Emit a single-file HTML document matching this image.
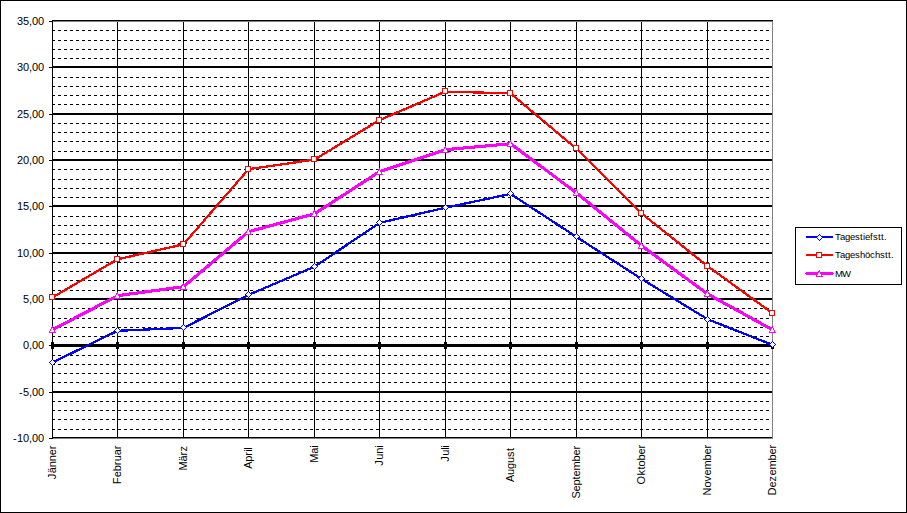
<!DOCTYPE html><html><head><meta charset="utf-8"><title>Temperaturen</title><style>html,body{margin:0;padding:0;background:#fff;overflow:hidden;}svg{display:block;}text{font-family:"Liberation Sans",sans-serif;}</style></head><body>
<svg width="907" height="513" viewBox="0 0 907 513">
<rect x="0" y="0" width="907" height="513" fill="#fff"/>
<g shape-rendering="crispEdges"><rect x="0" y="0" width="907" height="1" fill="#000"/><rect x="0" y="512" width="907" height="1" fill="#000"/><rect x="0" y="0" width="1" height="513" fill="#000"/><rect x="906" y="0" width="1" height="513" fill="#000"/><line x1="52" y1="429.5" x2="772" y2="429.5" stroke="#000" stroke-width="1" stroke-dasharray="3 3"/><line x1="52" y1="419.5" x2="772" y2="419.5" stroke="#000" stroke-width="1" stroke-dasharray="3 3"/><line x1="52" y1="410.5" x2="772" y2="410.5" stroke="#000" stroke-width="1" stroke-dasharray="3 3"/><line x1="52" y1="401.5" x2="772" y2="401.5" stroke="#000" stroke-width="1" stroke-dasharray="3 3"/><line x1="52" y1="382.5" x2="772" y2="382.5" stroke="#000" stroke-width="1" stroke-dasharray="3 3"/><line x1="52" y1="373.5" x2="772" y2="373.5" stroke="#000" stroke-width="1" stroke-dasharray="3 3"/><line x1="52" y1="364.5" x2="772" y2="364.5" stroke="#000" stroke-width="1" stroke-dasharray="3 3"/><line x1="52" y1="355.5" x2="772" y2="355.5" stroke="#000" stroke-width="1" stroke-dasharray="3 3"/><line x1="52" y1="336.5" x2="772" y2="336.5" stroke="#000" stroke-width="1" stroke-dasharray="3 3"/><line x1="52" y1="327.5" x2="772" y2="327.5" stroke="#000" stroke-width="1" stroke-dasharray="3 3"/><line x1="52" y1="318.5" x2="772" y2="318.5" stroke="#000" stroke-width="1" stroke-dasharray="3 3"/><line x1="52" y1="308.5" x2="772" y2="308.5" stroke="#000" stroke-width="1" stroke-dasharray="3 3"/><line x1="52" y1="290.5" x2="772" y2="290.5" stroke="#000" stroke-width="1" stroke-dasharray="3 3"/><line x1="52" y1="280.5" x2="772" y2="280.5" stroke="#000" stroke-width="1" stroke-dasharray="3 3"/><line x1="52" y1="271.5" x2="772" y2="271.5" stroke="#000" stroke-width="1" stroke-dasharray="3 3"/><line x1="52" y1="262.5" x2="772" y2="262.5" stroke="#000" stroke-width="1" stroke-dasharray="3 3"/><line x1="52" y1="243.5" x2="772" y2="243.5" stroke="#000" stroke-width="1" stroke-dasharray="3 3"/><line x1="52" y1="234.5" x2="772" y2="234.5" stroke="#000" stroke-width="1" stroke-dasharray="3 3"/><line x1="52" y1="225.5" x2="772" y2="225.5" stroke="#000" stroke-width="1" stroke-dasharray="3 3"/><line x1="52" y1="216.5" x2="772" y2="216.5" stroke="#000" stroke-width="1" stroke-dasharray="3 3"/><line x1="52" y1="197.5" x2="772" y2="197.5" stroke="#000" stroke-width="1" stroke-dasharray="3 3"/><line x1="52" y1="188.5" x2="772" y2="188.5" stroke="#000" stroke-width="1" stroke-dasharray="3 3"/><line x1="52" y1="179.5" x2="772" y2="179.5" stroke="#000" stroke-width="1" stroke-dasharray="3 3"/><line x1="52" y1="169.5" x2="772" y2="169.5" stroke="#000" stroke-width="1" stroke-dasharray="3 3"/><line x1="52" y1="151.5" x2="772" y2="151.5" stroke="#000" stroke-width="1" stroke-dasharray="3 3"/><line x1="52" y1="141.5" x2="772" y2="141.5" stroke="#000" stroke-width="1" stroke-dasharray="3 3"/><line x1="52" y1="132.5" x2="772" y2="132.5" stroke="#000" stroke-width="1" stroke-dasharray="3 3"/><line x1="52" y1="123.5" x2="772" y2="123.5" stroke="#000" stroke-width="1" stroke-dasharray="3 3"/><line x1="52" y1="104.5" x2="772" y2="104.5" stroke="#000" stroke-width="1" stroke-dasharray="3 3"/><line x1="52" y1="95.5" x2="772" y2="95.5" stroke="#000" stroke-width="1" stroke-dasharray="3 3"/><line x1="52" y1="86.5" x2="772" y2="86.5" stroke="#000" stroke-width="1" stroke-dasharray="3 3"/><line x1="52" y1="77.5" x2="772" y2="77.5" stroke="#000" stroke-width="1" stroke-dasharray="3 3"/><line x1="52" y1="58.5" x2="772" y2="58.5" stroke="#000" stroke-width="1" stroke-dasharray="3 3"/><line x1="52" y1="49.5" x2="772" y2="49.5" stroke="#000" stroke-width="1" stroke-dasharray="3 3"/><line x1="52" y1="40.5" x2="772" y2="40.5" stroke="#000" stroke-width="1" stroke-dasharray="3 3"/><line x1="52" y1="30.5" x2="772" y2="30.5" stroke="#000" stroke-width="1" stroke-dasharray="3 3"/><rect x="52" y="21" width="1" height="418" fill="#000"/><rect x="117" y="21" width="1" height="418" fill="#000"/><rect x="183" y="21" width="1" height="418" fill="#000"/><rect x="248" y="21" width="1" height="418" fill="#000"/><rect x="314" y="21" width="1" height="418" fill="#000"/><rect x="379" y="21" width="1" height="418" fill="#000"/><rect x="445" y="21" width="1" height="418" fill="#000"/><rect x="510" y="21" width="1" height="418" fill="#000"/><rect x="576" y="21" width="1" height="418" fill="#000"/><rect x="641" y="21" width="1" height="418" fill="#000"/><rect x="707" y="21" width="1" height="418" fill="#000"/><rect x="772" y="21" width="1" height="418" fill="#000"/><rect x="52" y="437" width="721" height="2" fill="#000"/><rect x="49" y="438" width="3" height="1" fill="#000"/><rect x="52" y="391" width="721" height="2" fill="#000"/><rect x="49" y="392" width="3" height="1" fill="#000"/><rect x="52" y="344" width="721" height="2" fill="#000"/><rect x="49" y="345" width="3" height="1" fill="#000"/><rect x="52" y="298" width="721" height="2" fill="#000"/><rect x="49" y="299" width="3" height="1" fill="#000"/><rect x="52" y="252" width="721" height="2" fill="#000"/><rect x="49" y="253" width="3" height="1" fill="#000"/><rect x="52" y="205" width="721" height="2" fill="#000"/><rect x="49" y="206" width="3" height="1" fill="#000"/><rect x="52" y="159" width="721" height="2" fill="#000"/><rect x="49" y="160" width="3" height="1" fill="#000"/><rect x="52" y="113" width="721" height="2" fill="#000"/><rect x="49" y="114" width="3" height="1" fill="#000"/><rect x="52" y="66" width="721" height="2" fill="#000"/><rect x="49" y="67" width="3" height="1" fill="#000"/><rect x="52" y="20" width="721" height="2" fill="#000"/><rect x="49" y="21" width="3" height="1" fill="#000"/><rect x="772" y="21" width="1" height="418" fill="#808080"/><rect x="52" y="21" width="721" height="1" fill="#808080"/><rect x="52" y="438" width="721" height="1" fill="#808080"/><rect x="52" y="21" width="1" height="418" fill="#000"/><rect x="52" y="344" width="721" height="3" fill="#000"/><rect x="51" y="342" width="3" height="7" fill="#000"/><rect x="116" y="342" width="3" height="7" fill="#000"/><rect x="182" y="342" width="3" height="7" fill="#000"/><rect x="247" y="342" width="3" height="7" fill="#000"/><rect x="313" y="342" width="3" height="7" fill="#000"/><rect x="378" y="342" width="3" height="7" fill="#000"/><rect x="444" y="342" width="3" height="7" fill="#000"/><rect x="509" y="342" width="3" height="7" fill="#000"/><rect x="575" y="342" width="3" height="7" fill="#000"/><rect x="640" y="342" width="3" height="7" fill="#000"/><rect x="706" y="342" width="3" height="7" fill="#000"/><rect x="771" y="342" width="3" height="7" fill="#000"/></g>
<text x="13 17 23 29 32 38" y="442" font-size="11" fill="#000">-10,00</text>
<text x="19 23 29 32 38" y="396" font-size="11" fill="#000">-5,00</text>
<text x="23 29 32 38" y="349" font-size="11" fill="#000">0,00</text>
<text x="23 29 32 38" y="303" font-size="11" fill="#000">5,00</text>
<text x="17 23 29 32 38" y="257" font-size="11" fill="#000">10,00</text>
<text x="17 23 29 32 38" y="210" font-size="11" fill="#000">15,00</text>
<text x="17 23 29 32 38" y="164" font-size="11" fill="#000">20,00</text>
<text x="17 23 29 32 38" y="118" font-size="11" fill="#000">25,00</text>
<text x="17 23 29 32 38" y="71" font-size="11" fill="#000">30,00</text>
<text x="17 23 29 32 38" y="25" font-size="11" fill="#000">35,00</text>
<g transform="translate(55.7,445.3) rotate(-90)"><text x="-34 -28 -22 -16 -10 -4" y="0" font-size="11" fill="#000">Jänner</text></g>
<g transform="translate(120.7,445.2) rotate(-90)"><text x="-39 -32 -26 -20 -16 -10 -4" y="0" font-size="11" fill="#000">Februar</text></g>
<g transform="translate(186.7,445.5) rotate(-90)"><text x="-25 -16 -10 -6" y="0" font-size="11" fill="#000">März</text></g>
<g transform="translate(251.7,447.8) rotate(-90)"><text x="-21 -14 -8 -4 -2" y="0" font-size="11" fill="#000">April</text></g>
<g transform="translate(317.7,445.8) rotate(-90)"><text x="-17 -8 -2" y="0" font-size="11" fill="#000">Mai</text></g>
<g transform="translate(382.7,445.7) rotate(-90)"><text x="-20 -14 -8 -2" y="0" font-size="11" fill="#000">Juni</text></g>
<g transform="translate(448.7,445.7) rotate(-90)"><text x="-16 -10 -4 -2" y="0" font-size="11" fill="#000">Juli</text></g>
<g transform="translate(513.7,448.0) rotate(-90)"><text x="-34 -27 -21 -15 -9 -3" y="0" font-size="11" fill="#000">August</text></g>
<g transform="translate(579.7,445.5) rotate(-90)"><text x="-53 -46 -40 -34 -31 -25 -16 -10 -4" y="0" font-size="11" fill="#000">September</text></g>
<g transform="translate(644.7,444.5) rotate(-90)"><text x="-40 -31 -25 -22 -16 -10 -4" y="0" font-size="11" fill="#000">Oktober</text></g>
<g transform="translate(710.7,444.5) rotate(-90)"><text x="-51 -43 -37 -31 -25 -16 -10 -4" y="0" font-size="11" fill="#000">November</text></g>
<g transform="translate(775.7,444.5) rotate(-90)"><text x="-51 -43 -37 -31 -25 -16 -10 -4" y="0" font-size="11" fill="#000">Dezember</text></g>
<polyline points="52.5,297.4 117.5,259.3 183.5,244.3 248.5,169.2 314.5,159.6 379.5,120.1 445.5,91.6 510.5,93.4 576.5,148.8 641.5,213.4 707.5,266.1 772.5,313.2" fill="none" stroke="#f00" stroke-width="2.3" stroke-linejoin="round" stroke-linecap="round" shape-rendering="crispEdges"/>
<polyline points="52.5,329.8 117.5,295.7 183.5,286.7 248.5,231.7 314.5,213.8 379.5,171.7 445.5,149.7 510.5,143.7 576.5,192.9 641.5,245.7 707.5,293.9 772.5,329.8" fill="none" stroke="#f0f" stroke-width="3.1" stroke-linejoin="round" stroke-linecap="round" shape-rendering="crispEdges"/>
<polyline points="52.5,362.5 117.5,330.8 183.5,327.9 248.5,294.9 314.5,266.7 379.5,222.9 445.5,207.7 510.5,193.9 576.5,236.9 641.5,278.9 707.5,319.2 772.5,344.9" fill="none" stroke="#00f" stroke-width="2.3" stroke-linejoin="round" stroke-linecap="round" shape-rendering="crispEdges"/>
<g shape-rendering="crispEdges"><rect x="50" y="295" width="4" height="1" fill="#fff"/><rect x="50" y="296" width="4" height="1" fill="#fff"/><rect x="50" y="297" width="4" height="1" fill="#fff"/><rect x="50" y="298" width="4" height="1" fill="#fff"/><rect x="49" y="294" width="6" height="1" fill="#f00"/><rect x="49" y="295" width="1" height="1" fill="#f00"/><rect x="54" y="295" width="1" height="1" fill="#f00"/><rect x="49" y="296" width="1" height="1" fill="#f00"/><rect x="54" y="296" width="1" height="1" fill="#f00"/><rect x="49" y="297" width="1" height="1" fill="#f00"/><rect x="54" y="297" width="1" height="1" fill="#f00"/><rect x="49" y="298" width="1" height="1" fill="#f00"/><rect x="54" y="298" width="1" height="1" fill="#f00"/><rect x="49" y="299" width="6" height="1" fill="#f00"/><rect x="115" y="257" width="4" height="1" fill="#fff"/><rect x="115" y="258" width="4" height="1" fill="#fff"/><rect x="115" y="259" width="4" height="1" fill="#fff"/><rect x="115" y="260" width="4" height="1" fill="#fff"/><rect x="114" y="256" width="6" height="1" fill="#f00"/><rect x="114" y="257" width="1" height="1" fill="#f00"/><rect x="119" y="257" width="1" height="1" fill="#f00"/><rect x="114" y="258" width="1" height="1" fill="#f00"/><rect x="119" y="258" width="1" height="1" fill="#f00"/><rect x="114" y="259" width="1" height="1" fill="#f00"/><rect x="119" y="259" width="1" height="1" fill="#f00"/><rect x="114" y="260" width="1" height="1" fill="#f00"/><rect x="119" y="260" width="1" height="1" fill="#f00"/><rect x="114" y="261" width="6" height="1" fill="#f00"/><rect x="181" y="242" width="4" height="1" fill="#fff"/><rect x="181" y="243" width="4" height="1" fill="#fff"/><rect x="181" y="244" width="4" height="1" fill="#fff"/><rect x="181" y="245" width="4" height="1" fill="#fff"/><rect x="180" y="241" width="6" height="1" fill="#f00"/><rect x="180" y="242" width="1" height="1" fill="#f00"/><rect x="185" y="242" width="1" height="1" fill="#f00"/><rect x="180" y="243" width="1" height="1" fill="#f00"/><rect x="185" y="243" width="1" height="1" fill="#f00"/><rect x="180" y="244" width="1" height="1" fill="#f00"/><rect x="185" y="244" width="1" height="1" fill="#f00"/><rect x="180" y="245" width="1" height="1" fill="#f00"/><rect x="185" y="245" width="1" height="1" fill="#f00"/><rect x="180" y="246" width="6" height="1" fill="#f00"/><rect x="246" y="167" width="4" height="1" fill="#fff"/><rect x="246" y="168" width="4" height="1" fill="#fff"/><rect x="246" y="169" width="4" height="1" fill="#fff"/><rect x="246" y="170" width="4" height="1" fill="#fff"/><rect x="245" y="166" width="6" height="1" fill="#f00"/><rect x="245" y="167" width="1" height="1" fill="#f00"/><rect x="250" y="167" width="1" height="1" fill="#f00"/><rect x="245" y="168" width="1" height="1" fill="#f00"/><rect x="250" y="168" width="1" height="1" fill="#f00"/><rect x="245" y="169" width="1" height="1" fill="#f00"/><rect x="250" y="169" width="1" height="1" fill="#f00"/><rect x="245" y="170" width="1" height="1" fill="#f00"/><rect x="250" y="170" width="1" height="1" fill="#f00"/><rect x="245" y="171" width="6" height="1" fill="#f00"/><rect x="312" y="157" width="4" height="1" fill="#fff"/><rect x="312" y="158" width="4" height="1" fill="#fff"/><rect x="312" y="159" width="4" height="1" fill="#fff"/><rect x="312" y="160" width="4" height="1" fill="#fff"/><rect x="311" y="156" width="6" height="1" fill="#f00"/><rect x="311" y="157" width="1" height="1" fill="#f00"/><rect x="316" y="157" width="1" height="1" fill="#f00"/><rect x="311" y="158" width="1" height="1" fill="#f00"/><rect x="316" y="158" width="1" height="1" fill="#f00"/><rect x="311" y="159" width="1" height="1" fill="#f00"/><rect x="316" y="159" width="1" height="1" fill="#f00"/><rect x="311" y="160" width="1" height="1" fill="#f00"/><rect x="316" y="160" width="1" height="1" fill="#f00"/><rect x="311" y="161" width="6" height="1" fill="#f00"/><rect x="377" y="118" width="4" height="1" fill="#fff"/><rect x="377" y="119" width="4" height="1" fill="#fff"/><rect x="377" y="120" width="4" height="1" fill="#fff"/><rect x="377" y="121" width="4" height="1" fill="#fff"/><rect x="376" y="117" width="6" height="1" fill="#f00"/><rect x="376" y="118" width="1" height="1" fill="#f00"/><rect x="381" y="118" width="1" height="1" fill="#f00"/><rect x="376" y="119" width="1" height="1" fill="#f00"/><rect x="381" y="119" width="1" height="1" fill="#f00"/><rect x="376" y="120" width="1" height="1" fill="#f00"/><rect x="381" y="120" width="1" height="1" fill="#f00"/><rect x="376" y="121" width="1" height="1" fill="#f00"/><rect x="381" y="121" width="1" height="1" fill="#f00"/><rect x="376" y="122" width="6" height="1" fill="#f00"/><rect x="443" y="89" width="4" height="1" fill="#fff"/><rect x="443" y="90" width="4" height="1" fill="#fff"/><rect x="443" y="91" width="4" height="1" fill="#fff"/><rect x="443" y="92" width="4" height="1" fill="#fff"/><rect x="442" y="88" width="6" height="1" fill="#f00"/><rect x="442" y="89" width="1" height="1" fill="#f00"/><rect x="447" y="89" width="1" height="1" fill="#f00"/><rect x="442" y="90" width="1" height="1" fill="#f00"/><rect x="447" y="90" width="1" height="1" fill="#f00"/><rect x="442" y="91" width="1" height="1" fill="#f00"/><rect x="447" y="91" width="1" height="1" fill="#f00"/><rect x="442" y="92" width="1" height="1" fill="#f00"/><rect x="447" y="92" width="1" height="1" fill="#f00"/><rect x="442" y="93" width="6" height="1" fill="#f00"/><rect x="508" y="91" width="4" height="1" fill="#fff"/><rect x="508" y="92" width="4" height="1" fill="#fff"/><rect x="508" y="93" width="4" height="1" fill="#fff"/><rect x="508" y="94" width="4" height="1" fill="#fff"/><rect x="507" y="90" width="6" height="1" fill="#f00"/><rect x="507" y="91" width="1" height="1" fill="#f00"/><rect x="512" y="91" width="1" height="1" fill="#f00"/><rect x="507" y="92" width="1" height="1" fill="#f00"/><rect x="512" y="92" width="1" height="1" fill="#f00"/><rect x="507" y="93" width="1" height="1" fill="#f00"/><rect x="512" y="93" width="1" height="1" fill="#f00"/><rect x="507" y="94" width="1" height="1" fill="#f00"/><rect x="512" y="94" width="1" height="1" fill="#f00"/><rect x="507" y="95" width="6" height="1" fill="#f00"/><rect x="574" y="146" width="4" height="1" fill="#fff"/><rect x="574" y="147" width="4" height="1" fill="#fff"/><rect x="574" y="148" width="4" height="1" fill="#fff"/><rect x="574" y="149" width="4" height="1" fill="#fff"/><rect x="573" y="145" width="6" height="1" fill="#f00"/><rect x="573" y="146" width="1" height="1" fill="#f00"/><rect x="578" y="146" width="1" height="1" fill="#f00"/><rect x="573" y="147" width="1" height="1" fill="#f00"/><rect x="578" y="147" width="1" height="1" fill="#f00"/><rect x="573" y="148" width="1" height="1" fill="#f00"/><rect x="578" y="148" width="1" height="1" fill="#f00"/><rect x="573" y="149" width="1" height="1" fill="#f00"/><rect x="578" y="149" width="1" height="1" fill="#f00"/><rect x="573" y="150" width="6" height="1" fill="#f00"/><rect x="639" y="211" width="4" height="1" fill="#fff"/><rect x="639" y="212" width="4" height="1" fill="#fff"/><rect x="639" y="213" width="4" height="1" fill="#fff"/><rect x="639" y="214" width="4" height="1" fill="#fff"/><rect x="638" y="210" width="6" height="1" fill="#f00"/><rect x="638" y="211" width="1" height="1" fill="#f00"/><rect x="643" y="211" width="1" height="1" fill="#f00"/><rect x="638" y="212" width="1" height="1" fill="#f00"/><rect x="643" y="212" width="1" height="1" fill="#f00"/><rect x="638" y="213" width="1" height="1" fill="#f00"/><rect x="643" y="213" width="1" height="1" fill="#f00"/><rect x="638" y="214" width="1" height="1" fill="#f00"/><rect x="643" y="214" width="1" height="1" fill="#f00"/><rect x="638" y="215" width="6" height="1" fill="#f00"/><rect x="705" y="264" width="4" height="1" fill="#fff"/><rect x="705" y="265" width="4" height="1" fill="#fff"/><rect x="705" y="266" width="4" height="1" fill="#fff"/><rect x="705" y="267" width="4" height="1" fill="#fff"/><rect x="704" y="263" width="6" height="1" fill="#f00"/><rect x="704" y="264" width="1" height="1" fill="#f00"/><rect x="709" y="264" width="1" height="1" fill="#f00"/><rect x="704" y="265" width="1" height="1" fill="#f00"/><rect x="709" y="265" width="1" height="1" fill="#f00"/><rect x="704" y="266" width="1" height="1" fill="#f00"/><rect x="709" y="266" width="1" height="1" fill="#f00"/><rect x="704" y="267" width="1" height="1" fill="#f00"/><rect x="709" y="267" width="1" height="1" fill="#f00"/><rect x="704" y="268" width="6" height="1" fill="#f00"/><rect x="770" y="311" width="4" height="1" fill="#fff"/><rect x="770" y="312" width="4" height="1" fill="#fff"/><rect x="770" y="313" width="4" height="1" fill="#fff"/><rect x="770" y="314" width="4" height="1" fill="#fff"/><rect x="769" y="310" width="6" height="1" fill="#f00"/><rect x="769" y="311" width="1" height="1" fill="#f00"/><rect x="774" y="311" width="1" height="1" fill="#f00"/><rect x="769" y="312" width="1" height="1" fill="#f00"/><rect x="774" y="312" width="1" height="1" fill="#f00"/><rect x="769" y="313" width="1" height="1" fill="#f00"/><rect x="774" y="313" width="1" height="1" fill="#f00"/><rect x="769" y="314" width="1" height="1" fill="#f00"/><rect x="774" y="314" width="1" height="1" fill="#f00"/><rect x="769" y="315" width="6" height="1" fill="#f00"/><rect x="52" y="328" width="1" height="1" fill="#fff"/><rect x="51" y="329" width="2" height="1" fill="#fff"/><rect x="51" y="330" width="3" height="1" fill="#fff"/><rect x="50" y="331" width="4" height="1" fill="#fff"/><rect x="52" y="326" width="1" height="1" fill="#f0f"/><rect x="51" y="327" width="2" height="1" fill="#f0f"/><rect x="51" y="328" width="1" height="1" fill="#f0f"/><rect x="53" y="328" width="1" height="1" fill="#f0f"/><rect x="50" y="329" width="1" height="1" fill="#f0f"/><rect x="53" y="329" width="1" height="1" fill="#f0f"/><rect x="50" y="330" width="1" height="1" fill="#f0f"/><rect x="54" y="330" width="1" height="1" fill="#f0f"/><rect x="49" y="331" width="1" height="1" fill="#f0f"/><rect x="54" y="331" width="1" height="1" fill="#f0f"/><rect x="49" y="332" width="7" height="1" fill="#f0f"/><rect x="117" y="294" width="1" height="1" fill="#fff"/><rect x="116" y="295" width="2" height="1" fill="#fff"/><rect x="116" y="296" width="3" height="1" fill="#fff"/><rect x="115" y="297" width="4" height="1" fill="#fff"/><rect x="117" y="292" width="1" height="1" fill="#f0f"/><rect x="116" y="293" width="2" height="1" fill="#f0f"/><rect x="116" y="294" width="1" height="1" fill="#f0f"/><rect x="118" y="294" width="1" height="1" fill="#f0f"/><rect x="115" y="295" width="1" height="1" fill="#f0f"/><rect x="118" y="295" width="1" height="1" fill="#f0f"/><rect x="115" y="296" width="1" height="1" fill="#f0f"/><rect x="119" y="296" width="1" height="1" fill="#f0f"/><rect x="114" y="297" width="1" height="1" fill="#f0f"/><rect x="119" y="297" width="1" height="1" fill="#f0f"/><rect x="114" y="298" width="7" height="1" fill="#f0f"/><rect x="183" y="285" width="1" height="1" fill="#fff"/><rect x="182" y="286" width="2" height="1" fill="#fff"/><rect x="182" y="287" width="3" height="1" fill="#fff"/><rect x="181" y="288" width="4" height="1" fill="#fff"/><rect x="183" y="283" width="1" height="1" fill="#f0f"/><rect x="182" y="284" width="2" height="1" fill="#f0f"/><rect x="182" y="285" width="1" height="1" fill="#f0f"/><rect x="184" y="285" width="1" height="1" fill="#f0f"/><rect x="181" y="286" width="1" height="1" fill="#f0f"/><rect x="184" y="286" width="1" height="1" fill="#f0f"/><rect x="181" y="287" width="1" height="1" fill="#f0f"/><rect x="185" y="287" width="1" height="1" fill="#f0f"/><rect x="180" y="288" width="1" height="1" fill="#f0f"/><rect x="185" y="288" width="1" height="1" fill="#f0f"/><rect x="180" y="289" width="7" height="1" fill="#f0f"/><rect x="248" y="230" width="1" height="1" fill="#fff"/><rect x="247" y="231" width="2" height="1" fill="#fff"/><rect x="247" y="232" width="3" height="1" fill="#fff"/><rect x="246" y="233" width="4" height="1" fill="#fff"/><rect x="248" y="228" width="1" height="1" fill="#f0f"/><rect x="247" y="229" width="2" height="1" fill="#f0f"/><rect x="247" y="230" width="1" height="1" fill="#f0f"/><rect x="249" y="230" width="1" height="1" fill="#f0f"/><rect x="246" y="231" width="1" height="1" fill="#f0f"/><rect x="249" y="231" width="1" height="1" fill="#f0f"/><rect x="246" y="232" width="1" height="1" fill="#f0f"/><rect x="250" y="232" width="1" height="1" fill="#f0f"/><rect x="245" y="233" width="1" height="1" fill="#f0f"/><rect x="250" y="233" width="1" height="1" fill="#f0f"/><rect x="245" y="234" width="7" height="1" fill="#f0f"/><rect x="314" y="212" width="1" height="1" fill="#fff"/><rect x="313" y="213" width="2" height="1" fill="#fff"/><rect x="313" y="214" width="3" height="1" fill="#fff"/><rect x="312" y="215" width="4" height="1" fill="#fff"/><rect x="314" y="210" width="1" height="1" fill="#f0f"/><rect x="313" y="211" width="2" height="1" fill="#f0f"/><rect x="313" y="212" width="1" height="1" fill="#f0f"/><rect x="315" y="212" width="1" height="1" fill="#f0f"/><rect x="312" y="213" width="1" height="1" fill="#f0f"/><rect x="315" y="213" width="1" height="1" fill="#f0f"/><rect x="312" y="214" width="1" height="1" fill="#f0f"/><rect x="316" y="214" width="1" height="1" fill="#f0f"/><rect x="311" y="215" width="1" height="1" fill="#f0f"/><rect x="316" y="215" width="1" height="1" fill="#f0f"/><rect x="311" y="216" width="7" height="1" fill="#f0f"/><rect x="379" y="170" width="1" height="1" fill="#fff"/><rect x="378" y="171" width="2" height="1" fill="#fff"/><rect x="378" y="172" width="3" height="1" fill="#fff"/><rect x="377" y="173" width="4" height="1" fill="#fff"/><rect x="379" y="168" width="1" height="1" fill="#f0f"/><rect x="378" y="169" width="2" height="1" fill="#f0f"/><rect x="378" y="170" width="1" height="1" fill="#f0f"/><rect x="380" y="170" width="1" height="1" fill="#f0f"/><rect x="377" y="171" width="1" height="1" fill="#f0f"/><rect x="380" y="171" width="1" height="1" fill="#f0f"/><rect x="377" y="172" width="1" height="1" fill="#f0f"/><rect x="381" y="172" width="1" height="1" fill="#f0f"/><rect x="376" y="173" width="1" height="1" fill="#f0f"/><rect x="381" y="173" width="1" height="1" fill="#f0f"/><rect x="376" y="174" width="7" height="1" fill="#f0f"/><rect x="445" y="148" width="1" height="1" fill="#fff"/><rect x="444" y="149" width="2" height="1" fill="#fff"/><rect x="444" y="150" width="3" height="1" fill="#fff"/><rect x="443" y="151" width="4" height="1" fill="#fff"/><rect x="445" y="146" width="1" height="1" fill="#f0f"/><rect x="444" y="147" width="2" height="1" fill="#f0f"/><rect x="444" y="148" width="1" height="1" fill="#f0f"/><rect x="446" y="148" width="1" height="1" fill="#f0f"/><rect x="443" y="149" width="1" height="1" fill="#f0f"/><rect x="446" y="149" width="1" height="1" fill="#f0f"/><rect x="443" y="150" width="1" height="1" fill="#f0f"/><rect x="447" y="150" width="1" height="1" fill="#f0f"/><rect x="442" y="151" width="1" height="1" fill="#f0f"/><rect x="447" y="151" width="1" height="1" fill="#f0f"/><rect x="442" y="152" width="7" height="1" fill="#f0f"/><rect x="510" y="142" width="1" height="1" fill="#fff"/><rect x="509" y="143" width="2" height="1" fill="#fff"/><rect x="509" y="144" width="3" height="1" fill="#fff"/><rect x="508" y="145" width="4" height="1" fill="#fff"/><rect x="510" y="140" width="1" height="1" fill="#f0f"/><rect x="509" y="141" width="2" height="1" fill="#f0f"/><rect x="509" y="142" width="1" height="1" fill="#f0f"/><rect x="511" y="142" width="1" height="1" fill="#f0f"/><rect x="508" y="143" width="1" height="1" fill="#f0f"/><rect x="511" y="143" width="1" height="1" fill="#f0f"/><rect x="508" y="144" width="1" height="1" fill="#f0f"/><rect x="512" y="144" width="1" height="1" fill="#f0f"/><rect x="507" y="145" width="1" height="1" fill="#f0f"/><rect x="512" y="145" width="1" height="1" fill="#f0f"/><rect x="507" y="146" width="7" height="1" fill="#f0f"/><rect x="576" y="191" width="1" height="1" fill="#fff"/><rect x="575" y="192" width="2" height="1" fill="#fff"/><rect x="575" y="193" width="3" height="1" fill="#fff"/><rect x="574" y="194" width="4" height="1" fill="#fff"/><rect x="576" y="189" width="1" height="1" fill="#f0f"/><rect x="575" y="190" width="2" height="1" fill="#f0f"/><rect x="575" y="191" width="1" height="1" fill="#f0f"/><rect x="577" y="191" width="1" height="1" fill="#f0f"/><rect x="574" y="192" width="1" height="1" fill="#f0f"/><rect x="577" y="192" width="1" height="1" fill="#f0f"/><rect x="574" y="193" width="1" height="1" fill="#f0f"/><rect x="578" y="193" width="1" height="1" fill="#f0f"/><rect x="573" y="194" width="1" height="1" fill="#f0f"/><rect x="578" y="194" width="1" height="1" fill="#f0f"/><rect x="573" y="195" width="7" height="1" fill="#f0f"/><rect x="641" y="244" width="1" height="1" fill="#fff"/><rect x="640" y="245" width="2" height="1" fill="#fff"/><rect x="640" y="246" width="3" height="1" fill="#fff"/><rect x="639" y="247" width="4" height="1" fill="#fff"/><rect x="641" y="242" width="1" height="1" fill="#f0f"/><rect x="640" y="243" width="2" height="1" fill="#f0f"/><rect x="640" y="244" width="1" height="1" fill="#f0f"/><rect x="642" y="244" width="1" height="1" fill="#f0f"/><rect x="639" y="245" width="1" height="1" fill="#f0f"/><rect x="642" y="245" width="1" height="1" fill="#f0f"/><rect x="639" y="246" width="1" height="1" fill="#f0f"/><rect x="643" y="246" width="1" height="1" fill="#f0f"/><rect x="638" y="247" width="1" height="1" fill="#f0f"/><rect x="643" y="247" width="1" height="1" fill="#f0f"/><rect x="638" y="248" width="7" height="1" fill="#f0f"/><rect x="707" y="292" width="1" height="1" fill="#fff"/><rect x="706" y="293" width="2" height="1" fill="#fff"/><rect x="706" y="294" width="3" height="1" fill="#fff"/><rect x="705" y="295" width="4" height="1" fill="#fff"/><rect x="707" y="290" width="1" height="1" fill="#f0f"/><rect x="706" y="291" width="2" height="1" fill="#f0f"/><rect x="706" y="292" width="1" height="1" fill="#f0f"/><rect x="708" y="292" width="1" height="1" fill="#f0f"/><rect x="705" y="293" width="1" height="1" fill="#f0f"/><rect x="708" y="293" width="1" height="1" fill="#f0f"/><rect x="705" y="294" width="1" height="1" fill="#f0f"/><rect x="709" y="294" width="1" height="1" fill="#f0f"/><rect x="704" y="295" width="1" height="1" fill="#f0f"/><rect x="709" y="295" width="1" height="1" fill="#f0f"/><rect x="704" y="296" width="7" height="1" fill="#f0f"/><rect x="772" y="328" width="1" height="1" fill="#fff"/><rect x="771" y="329" width="2" height="1" fill="#fff"/><rect x="771" y="330" width="3" height="1" fill="#fff"/><rect x="770" y="331" width="4" height="1" fill="#fff"/><rect x="772" y="326" width="1" height="1" fill="#f0f"/><rect x="771" y="327" width="2" height="1" fill="#f0f"/><rect x="771" y="328" width="1" height="1" fill="#f0f"/><rect x="773" y="328" width="1" height="1" fill="#f0f"/><rect x="770" y="329" width="1" height="1" fill="#f0f"/><rect x="773" y="329" width="1" height="1" fill="#f0f"/><rect x="770" y="330" width="1" height="1" fill="#f0f"/><rect x="774" y="330" width="1" height="1" fill="#f0f"/><rect x="769" y="331" width="1" height="1" fill="#f0f"/><rect x="774" y="331" width="1" height="1" fill="#f0f"/><rect x="769" y="332" width="7" height="1" fill="#f0f"/><rect x="52" y="360" width="1" height="1" fill="#fff"/><rect x="51" y="361" width="3" height="1" fill="#fff"/><rect x="50" y="362" width="5" height="1" fill="#fff"/><rect x="51" y="363" width="3" height="1" fill="#fff"/><rect x="52" y="364" width="1" height="1" fill="#fff"/><rect x="52" y="359" width="1" height="1" fill="#00f"/><rect x="51" y="360" width="1" height="1" fill="#00f"/><rect x="53" y="360" width="1" height="1" fill="#00f"/><rect x="50" y="361" width="1" height="1" fill="#00f"/><rect x="54" y="361" width="1" height="1" fill="#00f"/><rect x="49" y="362" width="1" height="1" fill="#00f"/><rect x="55" y="362" width="1" height="1" fill="#00f"/><rect x="50" y="363" width="1" height="1" fill="#00f"/><rect x="54" y="363" width="1" height="1" fill="#00f"/><rect x="51" y="364" width="1" height="1" fill="#00f"/><rect x="53" y="364" width="1" height="1" fill="#00f"/><rect x="52" y="365" width="1" height="1" fill="#00f"/><rect x="117" y="328" width="1" height="1" fill="#fff"/><rect x="116" y="329" width="3" height="1" fill="#fff"/><rect x="115" y="330" width="5" height="1" fill="#fff"/><rect x="116" y="331" width="3" height="1" fill="#fff"/><rect x="117" y="332" width="1" height="1" fill="#fff"/><rect x="117" y="327" width="1" height="1" fill="#00f"/><rect x="116" y="328" width="1" height="1" fill="#00f"/><rect x="118" y="328" width="1" height="1" fill="#00f"/><rect x="115" y="329" width="1" height="1" fill="#00f"/><rect x="119" y="329" width="1" height="1" fill="#00f"/><rect x="114" y="330" width="1" height="1" fill="#00f"/><rect x="120" y="330" width="1" height="1" fill="#00f"/><rect x="115" y="331" width="1" height="1" fill="#00f"/><rect x="119" y="331" width="1" height="1" fill="#00f"/><rect x="116" y="332" width="1" height="1" fill="#00f"/><rect x="118" y="332" width="1" height="1" fill="#00f"/><rect x="117" y="333" width="1" height="1" fill="#00f"/><rect x="183" y="325" width="1" height="1" fill="#fff"/><rect x="182" y="326" width="3" height="1" fill="#fff"/><rect x="181" y="327" width="5" height="1" fill="#fff"/><rect x="182" y="328" width="3" height="1" fill="#fff"/><rect x="183" y="329" width="1" height="1" fill="#fff"/><rect x="183" y="324" width="1" height="1" fill="#00f"/><rect x="182" y="325" width="1" height="1" fill="#00f"/><rect x="184" y="325" width="1" height="1" fill="#00f"/><rect x="181" y="326" width="1" height="1" fill="#00f"/><rect x="185" y="326" width="1" height="1" fill="#00f"/><rect x="180" y="327" width="1" height="1" fill="#00f"/><rect x="186" y="327" width="1" height="1" fill="#00f"/><rect x="181" y="328" width="1" height="1" fill="#00f"/><rect x="185" y="328" width="1" height="1" fill="#00f"/><rect x="182" y="329" width="1" height="1" fill="#00f"/><rect x="184" y="329" width="1" height="1" fill="#00f"/><rect x="183" y="330" width="1" height="1" fill="#00f"/><rect x="248" y="292" width="1" height="1" fill="#fff"/><rect x="247" y="293" width="3" height="1" fill="#fff"/><rect x="246" y="294" width="5" height="1" fill="#fff"/><rect x="247" y="295" width="3" height="1" fill="#fff"/><rect x="248" y="296" width="1" height="1" fill="#fff"/><rect x="248" y="291" width="1" height="1" fill="#00f"/><rect x="247" y="292" width="1" height="1" fill="#00f"/><rect x="249" y="292" width="1" height="1" fill="#00f"/><rect x="246" y="293" width="1" height="1" fill="#00f"/><rect x="250" y="293" width="1" height="1" fill="#00f"/><rect x="245" y="294" width="1" height="1" fill="#00f"/><rect x="251" y="294" width="1" height="1" fill="#00f"/><rect x="246" y="295" width="1" height="1" fill="#00f"/><rect x="250" y="295" width="1" height="1" fill="#00f"/><rect x="247" y="296" width="1" height="1" fill="#00f"/><rect x="249" y="296" width="1" height="1" fill="#00f"/><rect x="248" y="297" width="1" height="1" fill="#00f"/><rect x="314" y="264" width="1" height="1" fill="#fff"/><rect x="313" y="265" width="3" height="1" fill="#fff"/><rect x="312" y="266" width="5" height="1" fill="#fff"/><rect x="313" y="267" width="3" height="1" fill="#fff"/><rect x="314" y="268" width="1" height="1" fill="#fff"/><rect x="314" y="263" width="1" height="1" fill="#00f"/><rect x="313" y="264" width="1" height="1" fill="#00f"/><rect x="315" y="264" width="1" height="1" fill="#00f"/><rect x="312" y="265" width="1" height="1" fill="#00f"/><rect x="316" y="265" width="1" height="1" fill="#00f"/><rect x="311" y="266" width="1" height="1" fill="#00f"/><rect x="317" y="266" width="1" height="1" fill="#00f"/><rect x="312" y="267" width="1" height="1" fill="#00f"/><rect x="316" y="267" width="1" height="1" fill="#00f"/><rect x="313" y="268" width="1" height="1" fill="#00f"/><rect x="315" y="268" width="1" height="1" fill="#00f"/><rect x="314" y="269" width="1" height="1" fill="#00f"/><rect x="379" y="220" width="1" height="1" fill="#fff"/><rect x="378" y="221" width="3" height="1" fill="#fff"/><rect x="377" y="222" width="5" height="1" fill="#fff"/><rect x="378" y="223" width="3" height="1" fill="#fff"/><rect x="379" y="224" width="1" height="1" fill="#fff"/><rect x="379" y="219" width="1" height="1" fill="#00f"/><rect x="378" y="220" width="1" height="1" fill="#00f"/><rect x="380" y="220" width="1" height="1" fill="#00f"/><rect x="377" y="221" width="1" height="1" fill="#00f"/><rect x="381" y="221" width="1" height="1" fill="#00f"/><rect x="376" y="222" width="1" height="1" fill="#00f"/><rect x="382" y="222" width="1" height="1" fill="#00f"/><rect x="377" y="223" width="1" height="1" fill="#00f"/><rect x="381" y="223" width="1" height="1" fill="#00f"/><rect x="378" y="224" width="1" height="1" fill="#00f"/><rect x="380" y="224" width="1" height="1" fill="#00f"/><rect x="379" y="225" width="1" height="1" fill="#00f"/><rect x="445" y="205" width="1" height="1" fill="#fff"/><rect x="444" y="206" width="3" height="1" fill="#fff"/><rect x="443" y="207" width="5" height="1" fill="#fff"/><rect x="444" y="208" width="3" height="1" fill="#fff"/><rect x="445" y="209" width="1" height="1" fill="#fff"/><rect x="445" y="204" width="1" height="1" fill="#00f"/><rect x="444" y="205" width="1" height="1" fill="#00f"/><rect x="446" y="205" width="1" height="1" fill="#00f"/><rect x="443" y="206" width="1" height="1" fill="#00f"/><rect x="447" y="206" width="1" height="1" fill="#00f"/><rect x="442" y="207" width="1" height="1" fill="#00f"/><rect x="448" y="207" width="1" height="1" fill="#00f"/><rect x="443" y="208" width="1" height="1" fill="#00f"/><rect x="447" y="208" width="1" height="1" fill="#00f"/><rect x="444" y="209" width="1" height="1" fill="#00f"/><rect x="446" y="209" width="1" height="1" fill="#00f"/><rect x="445" y="210" width="1" height="1" fill="#00f"/><rect x="510" y="191" width="1" height="1" fill="#fff"/><rect x="509" y="192" width="3" height="1" fill="#fff"/><rect x="508" y="193" width="5" height="1" fill="#fff"/><rect x="509" y="194" width="3" height="1" fill="#fff"/><rect x="510" y="195" width="1" height="1" fill="#fff"/><rect x="510" y="190" width="1" height="1" fill="#00f"/><rect x="509" y="191" width="1" height="1" fill="#00f"/><rect x="511" y="191" width="1" height="1" fill="#00f"/><rect x="508" y="192" width="1" height="1" fill="#00f"/><rect x="512" y="192" width="1" height="1" fill="#00f"/><rect x="507" y="193" width="1" height="1" fill="#00f"/><rect x="513" y="193" width="1" height="1" fill="#00f"/><rect x="508" y="194" width="1" height="1" fill="#00f"/><rect x="512" y="194" width="1" height="1" fill="#00f"/><rect x="509" y="195" width="1" height="1" fill="#00f"/><rect x="511" y="195" width="1" height="1" fill="#00f"/><rect x="510" y="196" width="1" height="1" fill="#00f"/><rect x="576" y="234" width="1" height="1" fill="#fff"/><rect x="575" y="235" width="3" height="1" fill="#fff"/><rect x="574" y="236" width="5" height="1" fill="#fff"/><rect x="575" y="237" width="3" height="1" fill="#fff"/><rect x="576" y="238" width="1" height="1" fill="#fff"/><rect x="576" y="233" width="1" height="1" fill="#00f"/><rect x="575" y="234" width="1" height="1" fill="#00f"/><rect x="577" y="234" width="1" height="1" fill="#00f"/><rect x="574" y="235" width="1" height="1" fill="#00f"/><rect x="578" y="235" width="1" height="1" fill="#00f"/><rect x="573" y="236" width="1" height="1" fill="#00f"/><rect x="579" y="236" width="1" height="1" fill="#00f"/><rect x="574" y="237" width="1" height="1" fill="#00f"/><rect x="578" y="237" width="1" height="1" fill="#00f"/><rect x="575" y="238" width="1" height="1" fill="#00f"/><rect x="577" y="238" width="1" height="1" fill="#00f"/><rect x="576" y="239" width="1" height="1" fill="#00f"/><rect x="641" y="276" width="1" height="1" fill="#fff"/><rect x="640" y="277" width="3" height="1" fill="#fff"/><rect x="639" y="278" width="5" height="1" fill="#fff"/><rect x="640" y="279" width="3" height="1" fill="#fff"/><rect x="641" y="280" width="1" height="1" fill="#fff"/><rect x="641" y="275" width="1" height="1" fill="#00f"/><rect x="640" y="276" width="1" height="1" fill="#00f"/><rect x="642" y="276" width="1" height="1" fill="#00f"/><rect x="639" y="277" width="1" height="1" fill="#00f"/><rect x="643" y="277" width="1" height="1" fill="#00f"/><rect x="638" y="278" width="1" height="1" fill="#00f"/><rect x="644" y="278" width="1" height="1" fill="#00f"/><rect x="639" y="279" width="1" height="1" fill="#00f"/><rect x="643" y="279" width="1" height="1" fill="#00f"/><rect x="640" y="280" width="1" height="1" fill="#00f"/><rect x="642" y="280" width="1" height="1" fill="#00f"/><rect x="641" y="281" width="1" height="1" fill="#00f"/><rect x="707" y="317" width="1" height="1" fill="#fff"/><rect x="706" y="318" width="3" height="1" fill="#fff"/><rect x="705" y="319" width="5" height="1" fill="#fff"/><rect x="706" y="320" width="3" height="1" fill="#fff"/><rect x="707" y="321" width="1" height="1" fill="#fff"/><rect x="707" y="316" width="1" height="1" fill="#00f"/><rect x="706" y="317" width="1" height="1" fill="#00f"/><rect x="708" y="317" width="1" height="1" fill="#00f"/><rect x="705" y="318" width="1" height="1" fill="#00f"/><rect x="709" y="318" width="1" height="1" fill="#00f"/><rect x="704" y="319" width="1" height="1" fill="#00f"/><rect x="710" y="319" width="1" height="1" fill="#00f"/><rect x="705" y="320" width="1" height="1" fill="#00f"/><rect x="709" y="320" width="1" height="1" fill="#00f"/><rect x="706" y="321" width="1" height="1" fill="#00f"/><rect x="708" y="321" width="1" height="1" fill="#00f"/><rect x="707" y="322" width="1" height="1" fill="#00f"/><rect x="772" y="342" width="1" height="1" fill="#fff"/><rect x="771" y="343" width="3" height="1" fill="#fff"/><rect x="770" y="344" width="5" height="1" fill="#fff"/><rect x="771" y="345" width="3" height="1" fill="#fff"/><rect x="772" y="346" width="1" height="1" fill="#fff"/><rect x="772" y="341" width="1" height="1" fill="#00f"/><rect x="771" y="342" width="1" height="1" fill="#00f"/><rect x="773" y="342" width="1" height="1" fill="#00f"/><rect x="770" y="343" width="1" height="1" fill="#00f"/><rect x="774" y="343" width="1" height="1" fill="#00f"/><rect x="769" y="344" width="1" height="1" fill="#00f"/><rect x="775" y="344" width="1" height="1" fill="#00f"/><rect x="770" y="345" width="1" height="1" fill="#00f"/><rect x="774" y="345" width="1" height="1" fill="#00f"/><rect x="771" y="346" width="1" height="1" fill="#00f"/><rect x="773" y="346" width="1" height="1" fill="#00f"/><rect x="772" y="347" width="1" height="1" fill="#00f"/></g>
<g shape-rendering="crispEdges"><rect x="795" y="227" width="107" height="1" fill="#000"/><rect x="795" y="284" width="107" height="1" fill="#000"/><rect x="795" y="227" width="1" height="58" fill="#000"/><rect x="901" y="227" width="1" height="58" fill="#000"/><rect x="806" y="236" width="27" height="2" fill="#00f"/><rect x="819" y="235" width="1" height="1" fill="#fff"/><rect x="818" y="236" width="3" height="1" fill="#fff"/><rect x="817" y="237" width="5" height="1" fill="#fff"/><rect x="818" y="238" width="3" height="1" fill="#fff"/><rect x="819" y="239" width="1" height="1" fill="#fff"/><rect x="819" y="234" width="1" height="1" fill="#00f"/><rect x="818" y="235" width="1" height="1" fill="#00f"/><rect x="820" y="235" width="1" height="1" fill="#00f"/><rect x="817" y="236" width="1" height="1" fill="#00f"/><rect x="821" y="236" width="1" height="1" fill="#00f"/><rect x="816" y="237" width="1" height="1" fill="#00f"/><rect x="822" y="237" width="1" height="1" fill="#00f"/><rect x="817" y="238" width="1" height="1" fill="#00f"/><rect x="821" y="238" width="1" height="1" fill="#00f"/><rect x="818" y="239" width="1" height="1" fill="#00f"/><rect x="820" y="239" width="1" height="1" fill="#00f"/><rect x="819" y="240" width="1" height="1" fill="#00f"/><rect x="806" y="254" width="27" height="2" fill="#f00"/><rect x="817" y="253" width="4" height="1" fill="#fff"/><rect x="817" y="254" width="4" height="1" fill="#fff"/><rect x="817" y="255" width="4" height="1" fill="#fff"/><rect x="817" y="256" width="4" height="1" fill="#fff"/><rect x="816" y="252" width="6" height="1" fill="#f00"/><rect x="816" y="253" width="1" height="1" fill="#f00"/><rect x="821" y="253" width="1" height="1" fill="#f00"/><rect x="816" y="254" width="1" height="1" fill="#f00"/><rect x="821" y="254" width="1" height="1" fill="#f00"/><rect x="816" y="255" width="1" height="1" fill="#f00"/><rect x="821" y="255" width="1" height="1" fill="#f00"/><rect x="816" y="256" width="1" height="1" fill="#f00"/><rect x="821" y="256" width="1" height="1" fill="#f00"/><rect x="816" y="257" width="6" height="1" fill="#f00"/><rect x="806" y="272" width="27" height="3" fill="#f0f"/><rect x="805" y="273" width="29" height="1" fill="#f0f"/><rect x="819" y="272" width="1" height="1" fill="#fff"/><rect x="818" y="273" width="2" height="1" fill="#fff"/><rect x="818" y="274" width="3" height="1" fill="#fff"/><rect x="817" y="275" width="4" height="1" fill="#fff"/><rect x="819" y="270" width="1" height="1" fill="#f0f"/><rect x="818" y="271" width="2" height="1" fill="#f0f"/><rect x="818" y="272" width="1" height="1" fill="#f0f"/><rect x="820" y="272" width="1" height="1" fill="#f0f"/><rect x="817" y="273" width="1" height="1" fill="#f0f"/><rect x="820" y="273" width="1" height="1" fill="#f0f"/><rect x="817" y="274" width="1" height="1" fill="#f0f"/><rect x="821" y="274" width="1" height="1" fill="#f0f"/><rect x="816" y="275" width="1" height="1" fill="#f0f"/><rect x="821" y="275" width="1" height="1" fill="#f0f"/><rect x="816" y="276" width="7" height="1" fill="#f0f"/></g>
<text x="835 840 845 850 855 860 863 865 870 873 878 881 884" y="240" font-size="9.5" fill="#000">Tagestiefstt.</text>
<text x="835 840 845 850 855 860 865 870 875 880 885 888 891" y="258" font-size="9.5" fill="#000">Tageshöchstt.</text>
<text x="835 842" y="277" font-size="9.5" fill="#000">MW</text>
</svg></body></html>
